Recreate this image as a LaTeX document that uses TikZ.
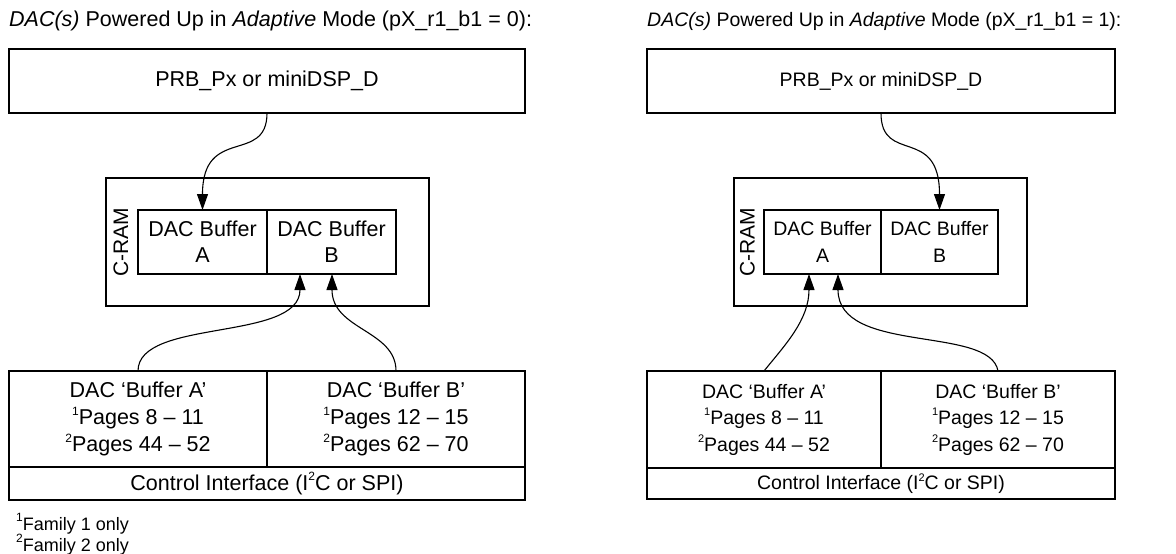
\documentclass[tikz,border=0pt]{standalone}
\usepackage{fontspec}
\setmainfont{Liberation Sans}
\usetikzlibrary{arrows.meta}
\newcommand\supA[1]{\raisebox{9.5pt}{\fontsize{12}{12}\selectfont #1}}
\newcommand\supR[1]{\raisebox{8.6pt}{\fontsize{11}{11}\selectfont #1}}
\newcommand\supB[1]{\raisebox{8.5pt}{\fontsize{12}{12}\selectfont #1}}
\begin{document}
\begin{tikzpicture}[x=1pt,y=-1pt,
  box/.style={draw, line width=1.3pt, inner sep=0pt, outer sep=0pt, align=center, font=\fontsize{21.5}{26}\selectfont},
  pagebox/.style={box, font=\fontsize{21.5}{27}\selectfont},
  boxR/.style={box, font=\fontsize{19.5}{26.5}\selectfont},
  lbl/.style={inner sep=0pt, outer sep=0pt, font=\fontsize{21}{26}\selectfont},
  ttl/.style={anchor=base west, inner sep=0pt, font=\fontsize{21.5}{26}\selectfont},
  ttlR/.style={ttl, font=\fontsize{19.5}{26}\selectfont},
  fnote/.style={anchor=base west, inner sep=0pt, font=\fontsize{18}{21}\selectfont},
  conn/.style={line width=1.1pt, -{Triangle[length=16pt,width=11pt]}},
]
\useasboundingbox (0,0) rectangle (1176,554);
% ---------------- left diagram ----------------
\node[ttl] (titleL) at (9,27) {\textit{DAC(s)} Powered Up in \textit{Adaptive} Mode (pX\_r1\_b1 = 0):};
\node[box, minimum width=516, minimum height=64] (topL) at (267,81) {PRB\_Px or miniDSP\_D};
\node[box, minimum width=323, minimum height=128] (cramL) at (267.5,242) {};
\node[box, minimum width=129, minimum height=64] (bufAL) at (202.5,242) {DAC Buffer\\A};
\node[box, minimum width=129, minimum height=64] (bufBL) at (331.5,242) {DAC Buffer\\B};
\node[lbl, rotate=90] (cramtL) at (121,242) {C-RAM};
\node[pagebox, minimum width=258, minimum height=96] (pageAL) at (138,419) {DAC \textquoteleft Buffer A\textquoteright\\\supA{1}Pages 8 \textendash\ 11\\\supA{2}Pages 44 \textendash\ 52};
\node[pagebox, minimum width=258, minimum height=96] (pageBL) at (396,419) {DAC \textquoteleft Buffer B\textquoteright\\\supA{1}Pages 12 \textendash\ 15\\\supA{2}Pages 62 \textendash\ 70};
\node[box, minimum width=516, minimum height=33] (ctrlL) at (267,483.5) {Control Interface (I\supA{2}C or SPI)};
\node[fnote] (fn1) at (16,530) {\supB{1}Family 1 only};
\node[fnote] (fn2) at (16,551) {\supB{2}Family 2 only};
\coordinate (inAL) at (300,274);
\coordinate (inBL) at (332,274);
\draw[conn] (topL.south) .. controls (267,165) and (202.5,125) .. (bufAL.north);
\draw[conn] (pageAL.north) .. controls (138,318) and (300,342) .. (inAL);
\draw[conn] (pageBL.north) .. controls (396,330) and (332,330) .. (inBL);
% ---------------- right diagram ----------------
\node[ttlR] (titleR) at (647,27) {\textit{DAC(s)} Powered Up in \textit{Adaptive} Mode (pX\_r1\_b1 = 1):};
\node[boxR, minimum width=468, minimum height=64] (topR) at (881,81) {PRB\_Px or miniDSP\_D};
\node[boxR, minimum width=293, minimum height=128] (cramR) at (880.5,242) {};
\node[boxR, minimum width=117, minimum height=64] (bufAR) at (822.5,242) {DAC Buffer\\A};
\node[boxR, minimum width=117, minimum height=64] (bufBR) at (939.5,242) {DAC Buffer\\B};
\node[lbl, rotate=90] (cramtR) at (747.5,242) {C-RAM};
\node[boxR, minimum width=234, minimum height=97] (pageAR) at (764,419.5) {DAC \textquoteleft Buffer A\textquoteright\\\supR{1}Pages 8 \textendash\ 11\\\supR{2}Pages 44 \textendash\ 52};
\node[boxR, minimum width=234, minimum height=97] (pageBR) at (998,419.5) {DAC \textquoteleft Buffer B\textquoteright\\\supR{1}Pages 12 \textendash\ 15\\\supR{2}Pages 62 \textendash\ 70};
\node[boxR, minimum width=468, minimum height=31] (ctrlR) at (881,483.5) {Control Interface (I\supR{2}C or SPI)};
\coordinate (inAR) at (809,274);
\coordinate (inBR) at (838,274);
\draw[conn] (topR.south) .. controls (881,165) and (939.5,125) .. (bufBR.north);
\draw[conn] (pageAR.north) .. controls (785,345) and (809,320) .. (inAR);
\draw[conn] (pageBR.north) .. controls (990,325) and (838,355) .. (inBR);
\end{tikzpicture}
\end{document}
